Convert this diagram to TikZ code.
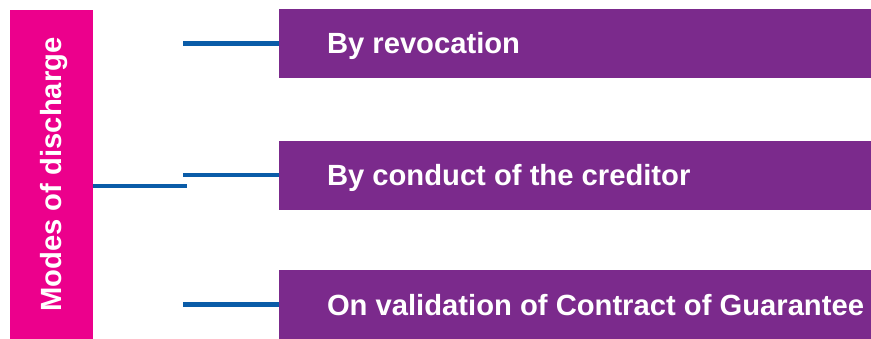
\documentclass[tikz,border=0pt]{standalone}
\usepackage{fontspec}
\setmainfont{Liberation Sans}
\usepackage{tikz}
\usetikzlibrary{positioning}
\definecolor{momo}{RGB}{236,0,140}
\definecolor{murasaki}{RGB}{123,42,140}
\definecolor{ruri}{RGB}{10,92,168}
\newcommand{\waytext}[1]{\makebox[372pt][l]{#1}}

\begin{document}
\begin{tikzpicture}[x=0.75pt, y=-0.75pt,
  modebox/.style={rectangle, fill=momo, rotate=90, minimum width=246.75pt, minimum height=62.25pt,
    inner sep=0pt, text=white, font=\fontsize{21.9}{26}\selectfont\bfseries, text height=15.7pt, text depth=0pt},
  waybox/.style={rectangle, fill=murasaki, minimum width=444pt, minimum height=51.75pt,
    inner xsep=36pt, inner ysep=0pt, text=white,
    font=\fontsize{21.9}{26}\selectfont\bfseries, text height=15.7pt, text depth=0pt},
  link/.style={draw=ruri, line width=3.4pt}]
  \useasboundingbox (0,0) rectangle (871,339);
  \node (modes) [modebox] at (51,174.5) {Modes of discharge};
  \node (revoc) [waybox] at (575,43.5) {\waytext{By revocation}};
  \node (conduct) [waybox, below=46.5pt of revoc] {\waytext{By conduct of the creditor}};
  \node (valid) [waybox, below=45pt of conduct] {\waytext{On validation of Contract of Guarantee}};
  \coordinate (hub) at (187,186);
  \coordinate (stub) at (183,0);
  \draw[link] (modes.south |- hub) -- (hub);
  \draw[link] (stub |- revoc.west) -- (revoc.west);
  \draw[link] (stub |- conduct.west) -- (conduct.west);
  \draw[link] (stub |- valid.west) -- (valid.west);
\end{tikzpicture}
\end{document}
